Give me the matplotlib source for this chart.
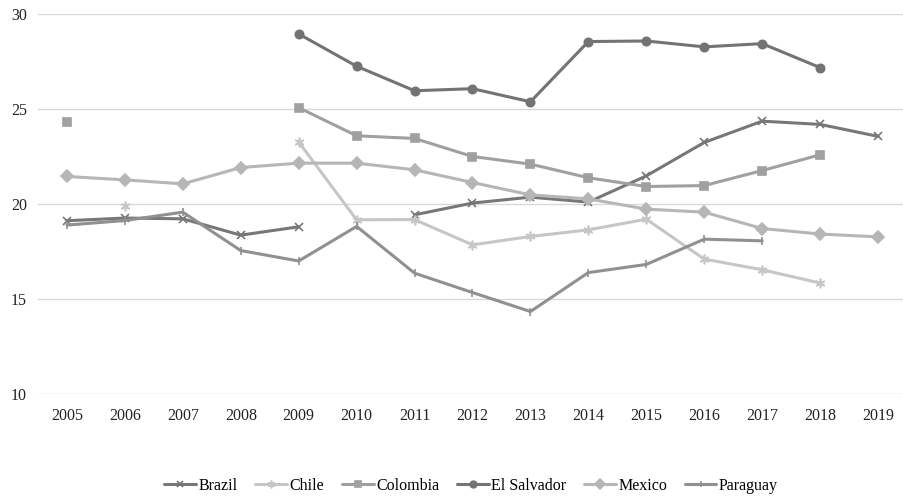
import matplotlib

matplotlib.use("Agg")
import matplotlib.pyplot as plt
import numpy as np

nan = np.nan

YEARS = [str(y) for y in range(2005, 2020)]

BRAZIL = [19.12, 19.26, 19.22, 18.36, 18.8, nan, 19.43, 20.05, 20.36, 20.1,
          21.48, 23.24, 24.36, 24.19, 23.56]
CHILE = [nan, 19.9, nan, nan, 23.26, 19.17, 19.18, 17.85, 18.29, 18.64,
         19.2, 17.1, 16.54, 15.84, nan]
COLOMBIA = [24.33, nan, nan, nan, 25.07, 23.59, 23.45, 22.5, 22.1, 21.38,
            20.92, 20.97, 21.76, 22.59, nan]
EL_SALVADOR = [nan, nan, nan, nan, 28.95, 27.25, 25.96, 26.07, 25.38, 28.55,
               28.58, 28.27, 28.44, 27.18, nan]
MEXICO = [21.45, 21.27, 21.06, 21.92, 22.15, 22.15, 21.8, 21.13, 20.48, 20.27,
          19.73, 19.57, 18.71, 18.42, 18.27]
PARAGUAY = [18.89, 19.13, 19.57, 17.55, 17.0, 18.82, 16.36, 15.34, 14.34, 16.39,
            16.82, 18.15, 18.06, nan, nan]

SERIES = [
    ("Brazil", BRAZIL, "#777777", "x", 6),
    ("Chile", CHILE, "#c6c6c6", (6, 2, 0), 7),
    ("Colombia", COLOMBIA, "#a0a0a0", "s", 6),
    ("El Salvador", EL_SALVADOR, "#737373", "o", 6),
    ("Mexico", MEXICO, "#b6b6b6", "D", 6),
    ("Paraguay", PARAGUAY, "#909090", "|", 6),
]

plt.rcParams["font.family"] = ["Liberation Serif", "DejaVu Serif"]
plt.rcParams["font.size"] = 11.5

fig = plt.figure(figsize=(9.04, 4.96), dpi=100)
ax = fig.add_axes([38 / 904, 1 - 394 / 496, 869 / 904, 380 / 496])

x = np.arange(len(YEARS))
for name, values, color, marker, ms in SERIES:
    ax.plot(x, values, color=color, lw=2.2, marker=marker, markersize=ms,
            markeredgewidth=1.2, markerfacecolor=color, markeredgecolor=color,
            label=name, solid_capstyle="round")

ax.set_xlim(-0.5, len(YEARS) - 0.5)
ax.set_ylim(10, 30)
ax.set_yticks([10, 15, 20, 25, 30])
ax.set_xticks(x)
ax.set_xticklabels(YEARS)
ax.grid(axis="y", color="#d9d9d9", lw=1)
ax.set_axisbelow(True)
for side in ("top", "right", "left", "bottom"):
    ax.spines[side].set_visible(False)
ax.tick_params(length=0, colors="#222222")
ax.tick_params(axis="x", pad=10)
ax.tick_params(axis="y", pad=8)

fig.legend(loc="center", bbox_to_anchor=(471 / 904, 1 - 486 / 496), ncol=6,
           frameon=False, handlelength=2.0, columnspacing=1.1, handletextpad=0.15,
           fontsize=11.5, markerscale=0.8)

fig.savefig("out.png", dpi=100)
